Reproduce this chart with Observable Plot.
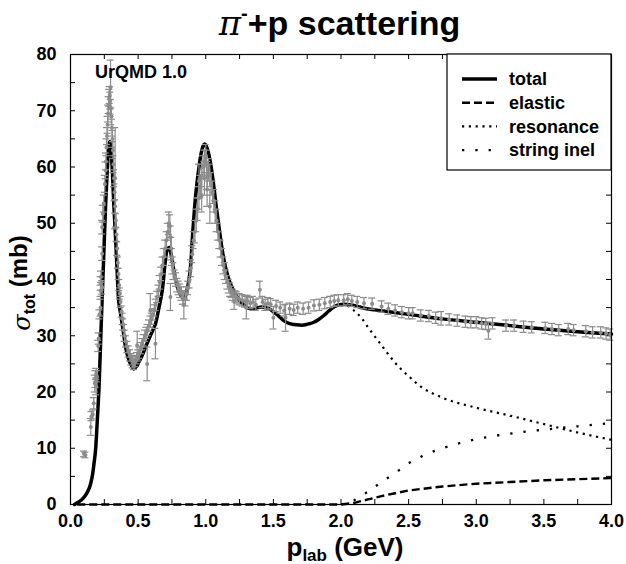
<!DOCTYPE html>
<html><head><meta charset="utf-8">
<script src="https://cdn.jsdelivr.net/npm/d3@7"></script>
<script src="https://cdn.jsdelivr.net/npm/@observablehq/plot@0.6"></script>
<style>
body{margin:0;background:#fff;width:626px;height:564px;overflow:hidden;}
#title{height:44px;position:relative;font-family:"Liberation Sans",Arial,sans-serif;font-weight:bold;font-size:34px;}
#title span.t{position:absolute;left:0;width:679px;text-align:center;top:-4px;line-height:34px;white-space:nowrap;}
#title .pi{font-family:"DejaVu Serif",serif;font-style:italic;font-weight:normal;}
#title sup{font-size:20px;vertical-align:15px;}
#chart svg{display:block;}
</style></head><body>
<div id="title"><span class="t"><span class="pi">π</span><sup>-</sup>+p scattering</span></div>
<div id="chart"></div>
<script>
// ---- tick labels ----
const xMajorTicks = [0.0, 0.5, 1.0, 1.5, 2.0, 2.5, 3.0, 3.5, 4.0];
const xMinorTicks = [0, 0.25, 0.5, 0.75, 1, 1.25, 1.5, 1.75, 2, 2.25, 2.5, 2.75, 3, 3.25, 3.5, 3.75, 4];
const yMajorTicks = [0, 10, 20, 30, 40, 50, 60, 70, 80];
const yMinorTicks = [0, 5, 10, 15, 20, 25, 30, 35, 40, 45, 50, 55, 60, 65, 70, 75, 80];

// ---- UrQMD total cross section (mb) ----
const totalP = [0.03,0.05,0.08,0.11,0.14,0.16,0.175,0.185,0.197,0.21,0.22,0.23,0.24,0.25,0.26,0.27,0.28,0.29,0.30,0.31,0.32,0.333,0.345,0.357,0.37,0.382,0.395,0.407,0.425,0.444,0.468,0.49,0.505,0.53,0.555,0.59,0.628,0.65,0.678,0.70,0.715,0.73,0.745,0.764,0.78,0.80,0.82,0.838,0.855,0.875,0.89,0.90,0.912,0.924,0.937,0.949,0.965,0.98,0.991,1.00,1.02,1.04,1.06,1.08,1.10,1.12,1.146,1.165,1.183,1.21,1.232,1.26,1.294,1.33,1.37,1.41,1.44,1.47,1.503,1.54,1.577,1.615,1.651,1.69,1.725,1.76,1.799,1.835,1.873,1.91,1.947,1.985,2.021,2.06,2.095,2.14,2.19,2.25,2.5,2.75,3.0,3.25,3.5,3.75,4.0];
const totalSigma = [0,0.3,0.8,1.6,3.0,4.9,7.5,9.6,14.4,20.3,27,34,40.5,47,53.5,58.5,62.5,64.5,63,59,53.5,47.5,41.5,36,34,32.1,30,28,26.2,25,24.1,24.6,25.3,26.5,28,30,32.1,34.5,38,43,45.3,45.7,44.3,41.6,39.5,38,37,36.6,37.5,39.8,43,47,51,54.6,57.5,59.8,62.3,63.7,64.1,63.9,62.5,60,56.5,52.5,49,45.5,42.2,40.5,39.2,37.8,36.9,36,35.2,34.8,34.9,35.1,35.0,34.8,34.2,33.5,32.7,32.2,32.0,31.9,31.9,32.1,32.4,32.9,33.6,34.4,35.1,35.5,35.6,35.5,35.4,35.1,34.8,34.6,33.8,33.0,32.4,31.8,31.2,30.7,30.3];

// ---- elastic ----
const elasticP = [0.05,2.0,2.1,2.2,2.3,2.4,2.5,2.75,3.0,3.25,3.5,3.75,4.0];
const elasticSigma = [0,0,0.3,0.9,1.5,2.0,2.5,3.2,3.7,4.0,4.3,4.5,4.7];

// ---- resonance (equals total below 2 GeV) ----
const resonanceP = [1.95,2.0,2.05,2.1,2.15,2.2,2.3,2.4,2.5,2.6,2.75,3.0,3.25,3.5,3.75,4.0];
const resonanceSigma = [35.1,35.4,35.3,34.4,33.2,31.5,28.3,25.2,22.8,20.8,19.0,17.2,15.8,14.3,12.8,11.5];

// ---- string inelastic ----
const stringP = [2.0,2.1,2.2,2.3,2.4,2.5,2.6,2.75,3.0,3.25,3.5,3.75,4.0];
const stringSigma = [0,0.8,2.3,4.0,5.6,7.3,8.6,10.0,11.6,12.6,13.3,13.9,14.5];

// ---- experimental data: p_lab (GeV), sigma (mb), error (mb) ----
const expP = [0.10,0.11,0.15,0.155,0.165,0.172,0.18,0.185,0.19,0.19,0.195,0.205,0.208,0.214,0.222,0.225,0.222,0.234,0.222,0.234,0.234,0.239,0.246,0.254,0.259,
0.262,0.266,0.27,0.274,0.278,0.282,0.286,0.29,0.294,0.298,0.296,0.302,0.306,0.31,0.314,0.318,0.322,0.33,0.326,0.33,0.335,0.34,0.345,0.35,0.355,0.36,0.365,0.37,0.378,0.385,0.39,0.395,0.40,0.41,0.42,0.43,0.44,0.45,0.46,0.47,0.48,0.49,0.493,0.50,0.51,0.52,0.53,0.54,0.55,0.567,0.56,0.57,0.58,0.59,0.59,0.60,0.61,0.62,0.628,0.63,0.64,0.65,0.66,0.67,0.68,0.69,0.70,0.71,0.72,0.727,0.735,0.74,0.745,0.739,0.75,0.755,0.76,0.77,0.78,0.79,0.80,0.81,0.82,0.83,0.838,0.85,0.86,0.87,0.88,0.89,0.90,0.91,0.92,0.93,0.94,0.95,0.96,0.97,0.98,0.99,1.00,1.005,1.01,1.02,1.03,1.04,1.05,1.06,1.07,1.08,1.09,1.10,1.11,1.12,1.13,1.14,1.15,1.16,1.17,1.18,1.19,1.20,1.21,1.22,1.23,1.25,1.27,1.29,1.30,1.31,1.33,1.35,1.37,1.40,1.42,1.44,1.46,1.48,1.50,1.52,1.55,1.58,1.59,1.62,1.65,1.68,1.72,1.76,1.80,1.84,1.88,1.92,1.95,1.98,2.02,2.05,2.08,2.12,2.17,2.23,2.30,2.35,2.40,2.45,2.50,2.53,2.59,2.65,2.70,2.74,2.80,2.86,2.92,2.96,3.00,3.04,3.07,3.09,3.12,3.22,3.28,3.35,3.41,3.51,3.56,3.61,3.68,3.72,3.81,3.86,3.92,3.96,3.99,
0.95,0.97,0.99,1.01,1.03];
const expSigma = [9.0,8.8,13.8,15.7,16.0,18.0,21.5,22.3,21.0,23.2,22.8,28.2,29.5,33.8,38.0,40.5,35,38.6,39.3,44.6,49.3,51.7,53.5,57,59.4,
61,63.5,65.5,67.5,69.5,71,72.3,72.8,71.8,70.5,74.2,69,67,65,63,60.5,58,58,55.5,53,50.5,48,45.5,43,41,39,37.5,36,34.3,33,32,31,30,29,28,27.2,26.5,25.8,25.3,25.0,25.5,26.0,28.3,26.5,27.0,27.8,28.5,29.2,30.0,25.0,30.5,31.0,31.8,32.5,34.5,33.0,33.8,34.5,28.6,35.5,36.9,38.0,39.5,41,42.5,44,45.5,47,48.5,50,49.5,47.5,45.5,36.9,44,42.5,41.5,40.5,40,39,38.5,38,37.5,36.8,35.5,36.5,37.5,38.5,40,42,44.5,47,48.5,50.5,52.5,54.5,56.5,58.5,60,61,62,60.5,58.5,59.5,58.5,57,55.5,54.0,52,50.5,48.5,47,45.5,44,42.5,41.5,40.5,39.5,38.8,38.2,37.8,37.3,36.2,37,36.8,36.5,36.3,36.1,35,36.2,35.8,36.0,35.5,38.2,36.0,35.5,35.8,35.6,33.2,35.3,35.0,34.5,33.2,34.8,34.6,35.0,34.8,35.0,35.4,35.5,35.8,36.0,36.2,36.3,36.3,36.5,36.2,36.0,35.8,35.7,35.2,34.8,34.5,34.2,34.0,34.0,33.6,33.5,33.2,33.1,32.9,32.7,32.5,32.4,32.4,32.2,32.1,30.9,32.2,31.8,31.8,31.6,31.5,31.4,31.2,31.0,31.2,31.0,30.8,30.6,30.6,30.4,30.2,
57.5,55,58,56,53];
const expErr = [0.5,0.5,1.5,0.8,0.8,1.0,1.5,1.5,1.5,1.0,1.0,1.0,1.0,0.8,1.0,1.0,1.5,1.2,1.2,1.2,1.2,1.5,1.5,1.5,1.5,
1.5,1.5,1.5,1.5,1.5,1.5,1.5,1.5,1.5,1.5,4.8,1.5,1.5,1.5,1.5,1.5,1.5,9,1.5,1.2,1.2,1.2,1.2,1,1,1,1,1,1,1,1,1,1,1,1,1,1,1,1,1,1,1,2.5,1,1,1,1,1,1,3,1,1,1,1,3,1,1,1,2.7,1,1,1,1.2,1.2,1.5,1.5,1.5,1.5,1.5,2,2,2,2,2.4,1.5,1.5,1.5,1.2,1.2,1.2,1.2,1.2,1.2,1.2,2.5,1.2,1.2,1.2,1.5,1.5,1.5,1.5,2,2,2,2,2,2,2,2,2,2.5,2.5,2,2,2,2,2,2,2,1.5,1.5,1.5,1.5,1.5,1.5,1.2,1.2,1.2,1.2,1,1,1.5,1,1,1,1,1,2,1,1,1,1,1.5,1,1,1,1,2,1,1,1,2.4,1,1,1,1,1,1,1,1,1,1,1,1,1,1,1,1,1,1,1,1,1,1,1,1,1,1,1.2,1,1,1,1,1,1,1,1.5,1,1,1,1,1,1,1,1,1,1,1,1,1,1,1,
3,3,3,3,3];

const total = totalP.map((p, i) => ({p, s: totalSigma[i]}));
const elastic = elasticP.map((p, i) => ({p, s: elasticSigma[i]}));
const resonance = resonanceP.map((p, i) => ({p, s: resonanceSigma[i]}));
const stringInel = stringP.map((p, i) => ({p, s: stringSigma[i]}));
const expData = expP.map((p, i) => ({p, s: expSigma[i], lo: expSigma[i] - expErr[i], hi: expSigma[i] + expErr[i]}));

const W = 626, H = 520, mL = 70, mR = 15, mT = 10, mB = 60;
const pw = W - mL - mR, ph = H - mT - mB, tl = 5;
const gray = "#8c8c8c";
const tickFont = '"Liberation Sans Narrow","Liberation Sans",Arial,sans-serif';

const chart = Plot.plot({
  width: W, height: H,
  marginLeft: mL, marginRight: mR, marginTop: mT, marginBottom: mB,
  x: {domain: [0, 4]},
  y: {domain: [0, 80]},
  style: {fontFamily: tickFont, fontSize: "18px", fontWeight: "bold", color: "black", background: "white", overflow: "visible"},
  marks: [
    Plot.axisX({ticks: xMajorTicks, tickFormat: d3.format(".1f"), tickSize: 0, tickPadding: 10, label: null}),
    Plot.axisY({ticks: yMajorTicks, tickFormat: d => String(d), tickSize: 0, tickPadding: 14, label: null}),
    Plot.tickX(xMinorTicks, {x: d => d, insetTop: ph - tl, stroke: "black"}),
    Plot.tickX(xMinorTicks, {x: d => d, insetBottom: ph - tl, stroke: "black"}),
    Plot.tickY(yMinorTicks, {y: d => d, insetRight: pw - tl, stroke: "black"}),
    Plot.tickY(yMinorTicks, {y: d => d, insetLeft: pw - tl, stroke: "black"}),
    Plot.line(elastic, {x: "p", y: "s", stroke: "black", strokeWidth: 2.4, strokeDasharray: "8,4", strokeLinecap: "butt"}),
    Plot.line(stringInel, {x: "p", y: "s", stroke: "black", strokeWidth: 2.3, strokeDasharray: "2.3,11", strokeLinecap: "butt", curve: "monotone-x"}),
    Plot.line(resonance, {x: "p", y: "s", stroke: "black", strokeWidth: 2.2, strokeDasharray: "2.2,4.6", strokeLinecap: "butt", curve: "monotone-x"}),
    Plot.line(total, {x: "p", y: "s", stroke: "black", strokeWidth: 3.5, curve: "catmull-rom"}),
    Plot.ruleX(expData, {x: "p", y1: "lo", y2: "hi", stroke: gray, strokeWidth: 1.2}),
    Plot.ruleY(expData, {y: "lo", x1: "p", x2: "p", insetLeft: -3.5, insetRight: -3.5, stroke: gray, strokeWidth: 1.2}),
    Plot.ruleY(expData, {y: "hi", x1: "p", x2: "p", insetLeft: -3.5, insetRight: -3.5, stroke: gray, strokeWidth: 1.2}),
    Plot.dot(expData, {x: "p", y: "s", r: 2, fill: gray, stroke: null}),
    Plot.frame({stroke: "black", strokeWidth: 1.2})
  ]
});
document.getElementById("chart").appendChild(chart);

// ---- annotations, axis labels and legend ----
const svg = d3.select(chart);
const labFont = '"Liberation Sans",Arial,sans-serif';
const frameTop = mT, frameRight = W - mR;

svg.append("text").attr("x", 95).attr("y", frameTop + 18).attr("dy", "0.35em").attr("text-anchor", "start")
  .attr("font-family", labFont).attr("font-size", 18).attr("font-weight", "bold").text("UrQMD 1.0");

// x label
const xl = svg.append("text").attr("x", 345).attr("y", H - 8).attr("text-anchor", "middle")
  .attr("font-family", labFont).attr("font-size", 26).attr("font-weight", "bold");
xl.append("tspan").text("p");
xl.append("tspan").attr("font-size", 17).attr("dy", 5).text("lab");
xl.append("tspan").attr("dy", -5).text(" (GeV)");

// y label
const yl = svg.append("text").attr("transform", `translate(27, ${mT + ph / 2 + 4}) rotate(-90)`).attr("text-anchor", "middle")
  .attr("font-family", labFont).attr("font-size", 24).attr("font-weight", "bold");
yl.append("tspan").attr("font-family", '"DejaVu Serif",serif').attr("font-style", "italic").attr("font-weight", "normal").attr("dy", 3).text("σ");
yl.append("tspan").attr("font-size", 16).attr("dy", 5).text("tot");
yl.append("tspan").attr("dy", -8).text(" (mb)");

// legend
const legendNames = ["total", "elastic", "resonance", "string inel"];
const legendDash = [null, "8,4", "2.2,4.6", "2.3,11"];
const legendWidth = [3.5, 2.4, 2.2, 2.3];
const lx = 447, lw = frameRight - lx, lh = 116;
const lg = svg.append("g");
lg.append("rect").attr("x", lx).attr("y", frameTop).attr("width", lw).attr("height", lh)
  .attr("fill", "white").attr("stroke", "black").attr("stroke-width", 1.2);
legendNames.forEach((name, i) => {
  const y = frameTop + 25 + i * 23.7;
  lg.append("line").attr("x1", lx + 15).attr("x2", lx + 50).attr("y1", y).attr("y2", y)
    .attr("stroke", "black").attr("stroke-width", legendWidth[i]).attr("stroke-dasharray", legendDash[i]);
  lg.append("text").attr("x", lx + 62).attr("y", y).attr("dy", "0.35em").attr("text-anchor", "start")
    .attr("font-family", labFont).attr("font-size", 18).attr("font-weight", "bold").text(name);
});
</script>
</body></html>
